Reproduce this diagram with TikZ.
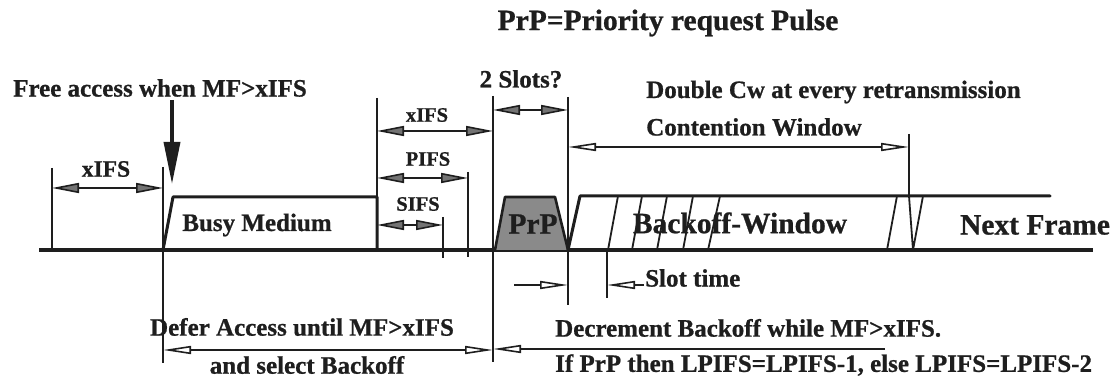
\documentclass[tikz,border=0pt]{standalone}
\usepackage{fontspec}
\setmainfont{Liberation Serif}[BoldFeatures={FakeBold=0.8}]
\usetikzlibrary{arrows.meta}

\definecolor{ink}{HTML}{1E1E1E}
\definecolor{pulse}{HTML}{8A8A8A}
\definecolor{headfill}{HTML}{737373}
\tikzset{
  fhead/.tip={Triangle[length=27pt,width=10pt,fill=headfill]},
  ohead/.tip={Triangle[open,length=28pt,width=8pt]},
  dimf/.style={draw=ink, line width=1.6pt, fhead-fhead},
  dimo/.style={draw=ink, line width=1.6pt, ohead-ohead},
  guide/.style={draw=ink, line width=1.8pt},
  signal/.style={draw=ink, line width=3pt, line join=round, line cap=round},
  slash/.style={draw=ink, line width=1.8pt},
  lbl/.style={font=\bfseries\fontsize{25}{28}\selectfont, inner sep=0pt, text=ink},
  small/.style={font=\bfseries\fontsize{20.5}{24}\selectfont, inner sep=0pt, text=ink},
  big/.style={font=\bfseries\fontsize{29.5}{32}\selectfont, inner sep=0pt, text=ink},
}

\begin{document}
\begin{tikzpicture}[x=1pt,y=-1pt]
\useasboundingbox (0,0) rectangle (1114,379);

% ---- key time instants ----
\coordinate (b0) at (39,250);
\coordinate (b1) at (1093,250);

% ---- title ----
\node[big] (title) at (668,23) {PrP=Priority request Pulse};

% ---- medium line (idle level) ----
\draw[draw=ink, line width=3.5pt] (b0) -- (b1);

% ---- free access marker ----
\node[lbl] (free) at (160,88) {Free access when MF>xIFS};
\coordinate (fa1) at (172,100);
\coordinate (fa2) at (172,184);
\draw[draw=ink, line width=3.5pt, -{Triangle[length=42pt,width=16pt,fill=ink]}] (fa1) -- (fa2);

% ---- leading xIFS ----
\coordinate (x0t) at (52,168);  \coordinate (x0b) at (52,250);
\coordinate (x1t) at (163,167); \coordinate (x1b) at (163,363);
\draw[guide] (x0t) -- (x0b);
\draw[guide] (x1t) -- (x1b);
\coordinate (xa0) at (52,188); \coordinate (xa1) at (163,188);
\draw[dimf] (xa0) -- (xa1);
\node[font=\bfseries\fontsize{23.5}{26}\selectfont, inner sep=0pt, text=ink] (xifs0) at (106,169) {xIFS};

% ---- busy medium ----
\coordinate (bm0) at (163,250);
\coordinate (bm1) at (173,197);
\coordinate (bm2) at (377,197);
\coordinate (bm3) at (377,250);
\draw[signal] (bm0) -- (bm1) -- (bm2) -- (bm3);
\node[lbl] (busy) at (257,225) {Busy Medium};

% ---- interframe spaces ----
\coordinate (g0t) at (377,98);  \coordinate (g0b) at (377,250);
\draw[guide] (g0t) -- (g0b);
\coordinate (g1t) at (493,96);  \coordinate (g1b) at (493,362);
\draw[guide] (g1t) -- (g1b);
\coordinate (pt) at (468,172);  \coordinate (pb) at (468,257);
\draw[guide] (pt) -- (pb);
\coordinate (st) at (443,217);  \coordinate (sb) at (443,258);
\draw[guide] (st) -- (sb);

\coordinate (xi0) at (377,131); \coordinate (xi1) at (493,131);
\draw[dimf] (xi0) -- (xi1);
\node[small] (xifs1) at (427,115) {xIFS};
\coordinate (pi0) at (377,178); \coordinate (pi1) at (468,178);
\draw[dimf] (pi0) -- (pi1);
\node[small] (pifs) at (428,159) {PIFS};
\coordinate (si0) at (377,225); \coordinate (si1) at (443,225);
\draw[dimf] (si0) -- (si1);
\node[small] (sifs) at (418,204) {SIFS};

% ---- priority request pulse ----
\coordinate (g2t) at (568,97);  \coordinate (g2b) at (568,305);
\draw[guide] (g2t) -- (g2b);
\coordinate (ts0) at (493,110); \coordinate (ts1) at (568,110);
\draw[dimf] (ts0) -- (ts1);
\node[lbl] (slots) at (521,79) {2 Slots?};

\coordinate (pr0) at (495,250);
\coordinate (pr1) at (505,197);
\coordinate (pr2) at (555,197);
\coordinate (pr3) at (568,250);
\path[fill=pulse] (pr0) -- (pr1) -- (pr2) -- (pr3) -- cycle;
\draw[draw=ink, line width=2.6pt, line join=round] (pr0) -- (pr1) -- (pr2) -- (pr3);
\node[big] (prp) at (533,224) {PrP};

% ---- backoff window and next frame ----
\coordinate (bw0) at (568,250);
\coordinate (bw1) at (580,196);
\coordinate (bw2) at (1050,196);
\draw[signal] (bw0) -- (bw1) -- (bw2);

\foreach \lo/\hi [count=\i] in {608/618, 632/642, 657/667, 683/693, 708/720, 887/897} {
  \coordinate (sl\i a) at (\lo,250);
  \coordinate (sl\i b) at (\hi,196);
  \draw[slash] (sl\i a) -- (sl\i b);
}
\coordinate (v0) at (909,196);
\coordinate (v1) at (913,250);
\coordinate (v2) at (923,196);
\draw[slash, line join=round] (v0) -- (v1) -- (v2);

\node[big] (bow) at (740,223) {Backoff-Window};
\node[big] (next) at (1035,225) {Next Frame};

% ---- contention window ----
\coordinate (cwt) at (909,134); \coordinate (cwb) at (909,196);
\draw[guide] (cwt) -- (cwb);
\coordinate (cw0) at (568,147); \coordinate (cw1) at (909,147);
\draw[dimo] (cw0) -- (cw1);
\node[lbl, anchor=west] (dbl) at (646,92) {Double Cw at every retransmission};
\node[lbl, anchor=west] (cwl) at (646,127) {Contention Window};

% ---- slot time ----
\coordinate (stt) at (607,250); \coordinate (stb) at (607,298);
\draw[guide] (stt) -- (stb);
\coordinate (sa0) at (514,285); \coordinate (sa1) at (568,285);
\draw[draw=ink, line width=1.6pt, -ohead] (sa0) -- (sa1);
\coordinate (sb0) at (644,285); \coordinate (sb1) at (607,285);
\draw[draw=ink, line width=1.6pt, -ohead] (sb0) -- (sb1);
\node[lbl, anchor=west] (slot) at (645,278) {Slot time};

% ---- defer access ----
\coordinate (da0) at (163,350); \coordinate (da1) at (493,350);
\draw[dimo] (da0) -- (da1);
\node[lbl] (defer) at (302,327) {Defer Access until MF>xIFS};
\node[lbl] (sel) at (307,365) {and select Backoff};

% ---- decrement backoff ----
\coordinate (de0) at (885,349); \coordinate (de1) at (493,349);
\draw[draw=ink, line width=1.6pt, -ohead] (de0) -- (de1);
\node[lbl, anchor=west] (dec) at (555,328) {Decrement Backoff while MF>xIFS.};
\node[lbl, anchor=west] (lpifs) at (555,365) {If PrP then LPIFS=LPIFS-1, else LPIFS=LPIFS-2};

\end{tikzpicture}
\end{document}
